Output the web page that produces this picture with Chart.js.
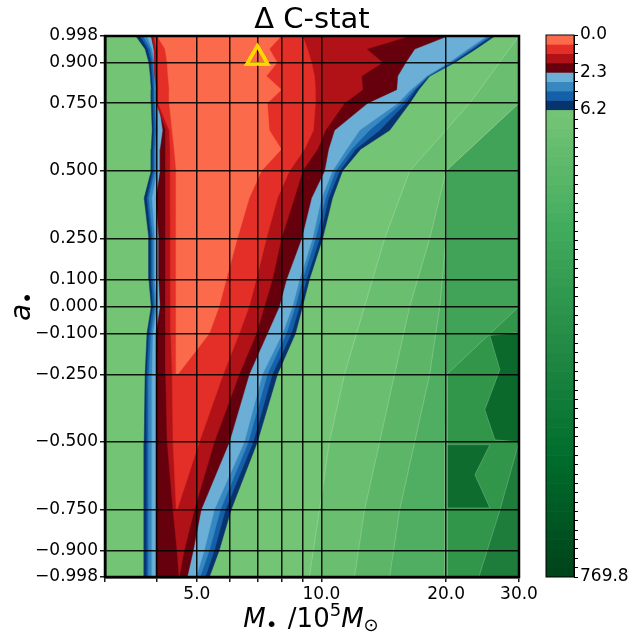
<!DOCTYPE html>
<html>
<head>
<meta charset="utf-8">
<script src="https://cdn.jsdelivr.net/npm/chart.js@4.4.1/dist/chart.umd.min.js"></script>
<style>
  html, body { margin: 0; padding: 0; background: #fff; }
  #wrap { position: relative; width: 633px; height: 636px; }
  #main { position: absolute; left: 0; top: 0; }
  #cbar { position: absolute; left: 530px; top: 0; }
</style>
</head>
<body>
<div id="wrap">
  <canvas id="main" width="633" height="636"></canvas>
  <canvas id="cbar" width="103" height="636"></canvas>
</div>
<script>
// axis ticks
const mGrid = [3, 4, 5, 6, 7, 8, 9, 10, 20, 30];
const mLabelled = [5, 10, 20, 30];
const aTicks = [-0.998, -0.9, -0.75, -0.5, -0.25, -0.1, 0, 0.1, 0.25, 0.5, 0.75, 0.9, 0.998];

const aRows = [0.998, 0.95, 0.9, 0.85, 0.8, 0.75, 0.65, 0.58, 0.5, 0.4, 0.25, 0.1, 0, -0.1, -0.25, -0.5, -0.75, -0.9, -0.998];

// left / right edge (M, 1e5 Msun) of each Delta C-stat level, innermost first
const lev1L = [4.01, 4.19, 4.24, 4.26, 4.29, 4.29, 4.36, 4.41, 4.46, 4.46, 4.46, 4.46, 4.46, 4.46, 4.46, null, null, null, null];
const lev1R = [8.00, 7.48, 7.82, 7.36, 8.00, 7.40, 7.48, 8.00, 7.16, 6.69, 6.26, 5.89, 5.66, 5.36, 4.50, null, null, null, null];
const lev2L = [3.94, 3.99, 4.01, 4.01, 4.03, 4.03, 4.29, 4.31, 4.31, 4.33, 4.33, 4.33, 4.33, 4.33, 4.36, 4.38, 4.46, null, null];
const lev2R = [9.00, 9.25, 9.46, 9.62, 9.67, 9.67, 9.56, 9.10, 8.37, 7.83, 7.36, 6.96, 6.69, 6.33, 5.79, 5.07, 4.48, null, null];
const lev3L = [3.90, 3.94, 3.96, 3.96, 3.99, 3.99, 4.21, 4.19, 4.19, 4.21, 4.21, 4.21, 4.21, 4.21, 4.21, 4.24, 4.38, 4.48, 4.53];
const lev3R = [16.34, 12.85, 14.05, 12.50, 12.57, 11.37, 10.23, 9.78, 9.00, 8.60, 8.00, 7.61, 7.28, 6.96, 6.33, 5.51, 4.93, 4.66, 4.53];
const lev4L = [3.88, 3.94, 4.01, 4.03, 4.05, 4.05, 4.14, 4.08, 4.08, 3.99, 4.05, 4.05, 4.08, 3.99, 3.99, 3.99, 3.99, 3.99, 3.99];
const lev4R = [20.19, 16.80, 15.98, 15.28, 15.19, 12.92, 10.75, 10.40, 10.17, 9.46, 8.95, 8.23, 7.91, 7.40, 6.69, 5.99, 5.12, 4.90, 4.74];
const lev5L = [3.79, 3.90, 3.96, 3.99, 4.01, 4.01, 4.03, 4.01, 4.01, 3.90, 3.96, 3.96, 4.01, 3.92, 3.90, 3.90, 3.90, 3.90, 3.90];
const lev5R = [25.09, 22.57, 20.30, 17.96, 16.43, 15.28, 12.36, 11.50, 10.63, 10.00, 9.51, 8.85, 8.51, 8.05, 7.20, 6.51, 5.51, 5.21, 4.98];
const lev6L = [3.71, 3.86, 3.92, 3.94, 3.96, 3.96, 3.99, 3.96, 3.96, 3.83, 3.92, 3.92, 3.96, 3.88, 3.83, 3.83, 3.83, 3.83, 3.83];
const lev6R = [25.51, 22.95, 20.53, 18.06, 16.71, 15.62, 13.06, 11.82, 10.81, 10.23, 9.67, 9.00, 8.65, 8.23, 7.40, 6.66, 5.70, 5.36, 5.09];
const lev7L = [3.65, 3.81, 3.88, 3.90, 3.92, 3.92, 3.94, 3.92, 3.92, 3.79, 3.88, 3.88, 3.92, 3.83, 3.79, 3.79, 3.79, 3.79, 3.79];
const lev7R = [25.79, 23.21, 20.76, 18.16, 16.89, 15.98, 13.82, 12.09, 11.06, 10.40, 9.89, 9.20, 8.85, 8.46, 7.61, 6.84, 5.86, 5.51, 5.24];
const lev8L = [3.56, 3.75, 3.83, 3.86, 3.88, 3.88, 3.90, 3.88, 3.88, 3.73, 3.83, 3.83, 3.88, 3.79, 3.75, 3.73, 3.73, 3.73, 3.73];
const lev8R = [26.24, 23.60, 20.99, 18.26, 17.18, 16.34, 14.61, 12.43, 11.24, 10.63, 10.06, 9.35, 9.00, 8.65, 7.83, 7.00, 6.05, 5.66, 5.36];

// the high Delta C-stat (green) part: edges of a few levels, region to their right
const gRows = [0.998, 0.75, 0.5, 0.25, 0, -0.25, -0.5, -0.75, -0.998];
const gEdgeA = [30, 22.82, 16.34, 14.21, 12.71, 11.37, 10.45, 9.89, 9.35];
const gEdgeB = [30, 30, 20.0, 18.26, 16.34, 15.02, 13.82, 12.71, 12.02];
const gEdgeC = [30, 30, 30, 20.0, 19.31, 18.26, 16.80, 15.45, 14.61];
const gEdgeD = [30, 30, 20.0, 20.0, 20.0, 20.0, 19.9, 19.9, 19.9];
const gEdgeE = [30, 30, 30, 30, 30, 20.1, 20.1, 20.1, 20.1];
const gEdgeF = [30, 30, 30, 30, 30, 30, 30, 27.0, 24.0];
// two darker pockets right of M = 20
const pocket1M = [30, 25.51, 26.98, 24.81, 26.24, 30];
const pocket1A = [-0.096, -0.107, -0.233, -0.381, -0.492, -0.499];
const pocket2M = [20.19, 25.51, 23.47, 25.51, 20.19];
const pocket2A = [-0.510, -0.510, -0.621, -0.743, -0.743];

// best fit marker
const bestM = [7.0];
const bestA = [0.917];

// colour bar
const cbarTickLabels = ['0.0', '2.3', '6.2', '769.8'];
const redBands = 4, blueBands = 4, greenBands = 50;

const mRange = [3, 30];
const aRange = [-0.998, 0.998];

const redCols = ['#fb6a4a', '#e32f27', '#b11218', '#67000d'];
const blueCols = ['#6baed6', '#3787c0', '#1561a9', '#08336e'];
const greenBase = '#74c476';
const greenCols = ['#6abe6f', '#5db668', '#50ae62', '#41a358', '#31954a', '#1f7d3b'];
const pocketCols = ['#0b692c', '#0e6c2e'];
const seam = 'rgba(255,255,255,0.3)';
const FONT = '"DejaVu Sans"';

function ring(left, right) {
  const pts = [];
  aRows.forEach((a, i) => { if (left[i] != null) pts.push({x: left[i], y: a}); });
  for (let i = aRows.length - 1; i >= 0; i--) {
    if (right[i] != null) pts.push({x: right[i], y: aRows[i]});
  }
  return pts;
}

function rightOf(edge) {
  const pts = gRows.map((a, i) => ({x: edge[i], y: a}));
  pts.push({x: mRange[1], y: aRange[0]}, {x: mRange[1], y: aRange[1]});
  return pts;
}

function patch(data, color, line) {
  return {
    data, showLine: true, fill: 'shape', tension: 0,
    backgroundColor: color, borderColor: line || color, borderWidth: line ? 0.7 : 0.5,
    pointRadius: 0
  };
}

const datasets = [];
[gEdgeA, gEdgeB, gEdgeC, gEdgeD, gEdgeE, gEdgeF].forEach((e, i) => {
  datasets.push(patch(rightOf(e), greenCols[i], seam));
});
datasets.push(patch(pocket1M.map((m, i) => ({x: m, y: pocket1A[i]})), pocketCols[0], seam));
datasets.push(patch(pocket2M.map((m, i) => ({x: m, y: pocket2A[i]})), pocketCols[1], seam));

// outer (6.2) to inner (0.575)
const levels = [[lev8L, lev8R], [lev7L, lev7R], [lev6L, lev6R], [lev5L, lev5R],
                [lev4L, lev4R], [lev3L, lev3R], [lev2L, lev2R], [lev1L, lev1R]];
const levCols = blueCols.slice().reverse().concat(redCols.slice().reverse());
levels.forEach(([l, r], i) => { datasets.push(patch(ring(l, r), levCols[i])); });

datasets.push({
  data: bestM.map((m, i) => ({x: m, y: bestA[i]})),
  showLine: false, pointStyle: 'triangle', pointRadius: 12,
  pointBorderWidth: 3.5, pointBorderColor: '#ffd700', pointBackgroundColor: 'rgba(0,0,0,0)'
});
const markerIndex = datasets.length - 1;
datasets.forEach((d, i) => { d.order = datasets.length - i; });

function fmtA(v) {
  return (v < 0 ? '\u2212' : '') + Math.abs(v).toFixed(3);
}

function drawParts(ctx, parts, cx, y) {
  let w = 0;
  parts.forEach(p => { ctx.font = p.font; p.w = ctx.measureText(p.t).width + (p.gap || 0); w += p.w; });
  let x = cx - w / 2;
  ctx.textAlign = 'left';
  ctx.textBaseline = 'alphabetic';
  parts.forEach(p => { ctx.font = p.font; ctx.fillText(p.t, x, y + (p.dy || 0)); x += p.w; });
}

const decor = {
  id: 'decor',
  beforeDatasetsDraw(chart) {
    const {ctx, chartArea: ca} = chart;
    ctx.save();
    ctx.fillStyle = greenBase;
    ctx.fillRect(ca.left, ca.top, ca.right - ca.left, ca.bottom - ca.top);
    ctx.restore();
  },
  afterDraw(chart) {
    const {ctx, chartArea: ca} = chart;
    ctx.save();
    ctx.strokeStyle = '#000';
    ctx.lineWidth = 2.5;
    ctx.strokeRect(ca.left, ca.top, ca.right - ca.left, ca.bottom - ca.top);
    ctx.restore();
    // keep the marker above the grid
    chart.getDatasetMeta(markerIndex).data.forEach(p => p.draw(ctx, ca));

    ctx.save();
    ctx.fillStyle = '#000';
    const cx = (ca.left + ca.right) / 2;
    ctx.font = '29px ' + FONT;
    ctx.textAlign = 'center';
    ctx.textBaseline = 'alphabetic';
    ctx.fillText('\u0394 C-stat', cx, 28);

    drawParts(ctx, [
      {t: 'M', font: 'italic 26px ' + FONT},
      {t: '\u2022', font: '20px ' + FONT, dy: 4, gap: 2},
      {t: ' /10', font: '26px ' + FONT},
      {t: '5', font: '18px ' + FONT, dy: -11},
      {t: 'M', font: 'italic 26px ' + FONT},
      {t: '\u2299', font: '18px ' + FONT, dy: 4}
    ], cx - 1, 627);

    ctx.translate(30, (ca.top + ca.bottom) / 2);
    ctx.rotate(-Math.PI / 2);
    drawParts(ctx, [
      {t: 'a', font: 'italic 28px ' + FONT},
      {t: '\u2022', font: '20px ' + FONT, dy: 4}
    ], 0, 0);
    ctx.restore();
  }
};

const axisGrid = { color: 'rgba(0,0,0,0.9)', lineWidth: 1.5, tickLength: 5, z: 1 };

new Chart(document.getElementById('main'), {
  type: 'scatter',
  data: { datasets },
  options: {
    responsive: false,
    animation: false,
    layout: { padding: { left: 0, top: 36, right: 114, bottom: 0 } },
    plugins: { legend: { display: false }, tooltip: { enabled: false }, title: { display: false } },
    scales: {
      x: {
        type: 'logarithmic', min: mRange[0], max: mRange[1],
        afterBuildTicks: s => { s.ticks = mGrid.map(v => ({value: v})); },
        afterFit: s => { s.height = 59; },
        ticks: {
          autoSkip: false, maxRotation: 0, color: '#000', padding: 2,
          font: { family: 'DejaVu Sans', size: 17 },
          callback: v => mLabelled.includes(v) ? v.toFixed(1) : ''
        },
        grid: axisGrid,
        border: { color: '#000', width: 2.5, z: 1 }
      },
      y: {
        type: 'linear', min: aRange[0], max: aRange[1],
        afterBuildTicks: s => { s.ticks = aTicks.map(v => ({value: v})); },
        afterFit: s => { s.width = 105; },
        ticks: {
          autoSkip: false, color: '#000', padding: 2,
          font: { family: 'DejaVu Sans', size: 17 },
          callback: v => fmtA(v)
        },
        grid: axisGrid,
        border: { color: '#000', width: 2.5, z: 1 }
      }
    }
  },
  plugins: [decor]
});

// colour bar
function hex(c) { return [1, 3, 5].map(i => parseInt(c.slice(i, i + 2), 16)); }
function mix(a, b, t) {
  const A = hex(a), B = hex(b);
  return 'rgb(' + A.map((v, i) => Math.round(v + (B[i] - v) * t)).join(',') + ')';
}
const greensStops = ['#74c476', '#41ab5d', '#238b45', '#006d2c', '#00441b'];
function greens(t) {
  const s = t * (greensStops.length - 1);
  const i = Math.min(Math.floor(s), greensStops.length - 2);
  return mix(greensStops[i], greensStops[i + 1], s - i);
}
const bandCols = redCols.concat(blueCols);
for (let i = 0; i < greenBands; i++) bandCols.push(greens(i / (greenBands - 1)));
const nBands = redBands + blueBands + greenBands;
const cbarTickPos = [0, redBands, redBands + blueBands, nBands];

const cbarFrame = {
  id: 'cbarFrame',
  afterDraw(chart) {
    const {ctx, chartArea: ca} = chart;
    ctx.save();
    ctx.strokeStyle = '#000';
    ctx.lineWidth = 1;
    ctx.strokeRect(ca.left, ca.top, ca.right - ca.left, ca.bottom - ca.top);
    ctx.restore();
  }
};

new Chart(document.getElementById('cbar'), {
  type: 'bar',
  data: {
    labels: [''],
    datasets: bandCols.map((c, i) => ({
      data: [[i, i + 1]], backgroundColor: c, borderWidth: 0,
      grouped: false, barPercentage: 1, categoryPercentage: 1
    }))
  },
  options: {
    responsive: false,
    animation: false,
    layout: { padding: { left: 16, top: 35, bottom: 59, right: 0 } },
    plugins: { legend: { display: false }, tooltip: { enabled: false } },
    scales: {
      x: { display: false },
      y: {
        position: 'right', min: 0, max: nBands, reverse: true,
        afterBuildTicks: s => {
          const t = [];
          for (let i = 0; i <= nBands; i++) t.push({value: i});
          s.ticks = t;
        },
        afterFit: s => { s.width = 59; },
        ticks: {
          autoSkip: false, color: '#000', padding: 2,
          font: { family: 'DejaVu Sans', size: 17 },
          callback: v => { const k = cbarTickPos.indexOf(v); return k >= 0 ? cbarTickLabels[k] : ''; }
        },
        grid: { drawOnChartArea: false, color: '#000', tickLength: 4, lineWidth: 1 },
        border: { color: '#000', width: 1 }
      }
    }
  },
  plugins: [cbarFrame]
});
</script>
</body>
</html>
